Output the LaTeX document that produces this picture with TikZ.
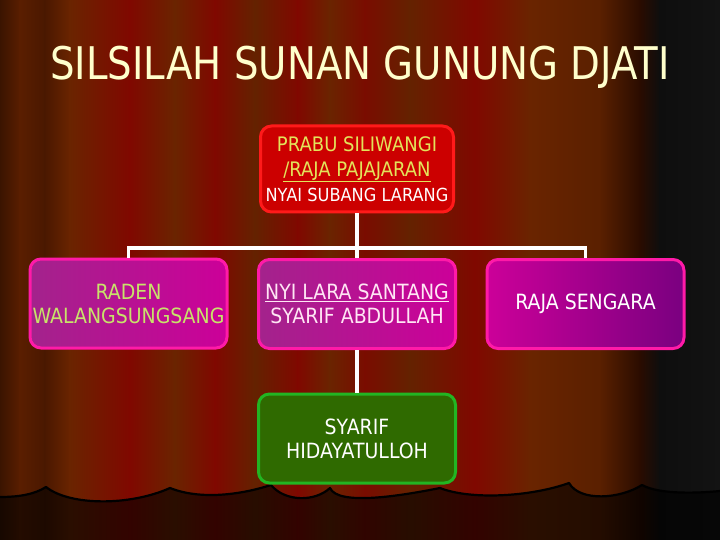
\documentclass[tikz,border=0pt]{standalone}
\usepackage{fontspec}
\newfontfamily\boxfont[FakeStretch=0.9]{DejaVu Sans}
\newfontfamily\titlefont[FakeStretch=0.86]{DejaVu Sans}

% curtain stripes
\definecolor{cur0}{HTML}{3A1400}
\definecolor{cur1}{HTML}{5A1E00}
\definecolor{cur2}{HTML}{4A1800}
\definecolor{cur3}{HTML}{6A2400}
\definecolor{cur4}{HTML}{800800}
\definecolor{cur5}{HTML}{642200}
\definecolor{cur6}{HTML}{7A0C00}
\definecolor{cur7}{HTML}{5A2000}
\definecolor{cur8}{HTML}{2A0C00}
\definecolor{cur9}{HTML}{0E0E0E}
\definecolor{cur10}{HTML}{131313}
% boxes
\definecolor{titlecol}{HTML}{FFFFCC}
\definecolor{redfill}{HTML}{CC0000}
\definecolor{redline}{HTML}{FF1A1A}
\definecolor{yellowtxt}{HTML}{E3E35A}
\definecolor{pinkline}{HTML}{FF1AA8}
\definecolor{magentaA}{HTML}{A3238C}
\definecolor{magentaB}{HTML}{CC0099}
\definecolor{purpleB}{HTML}{7A0080}
\definecolor{limetxt}{HTML}{C8E36A}
\definecolor{pinktxt}{HTML}{FFE6F4}
\definecolor{greenfill}{HTML}{2F6A00}
\definecolor{greenline}{HTML}{22B522}

\tikzset{
  person/.style={rounded corners=11pt, line width=3pt, align=center, inner sep=0pt,
    minimum width=197pt, minimum height=89pt, font=\boxfont\fontsize{21}{24}\selectfont},
  link/.style={draw=white, line width=3.5pt},
  hem/.style={line width=2.2pt, line join=round}
}
\newcommand{\hemline}{(0,497) .. controls (20,497) and (35,494) .. (46,487)
    .. controls (70,506) and (130,506) .. (170,488) .. controls (200,500) and (240,495) .. (271,485)
    .. controls (285,502) and (315,502) .. (330,488) .. controls (338,506) and (400,496) .. (440,488)
    .. controls (470,500) and (530,497) .. (569,483) .. controls (580,502) and (620,499) .. (642,485)
    .. controls (660,495) and (700,493) .. (720,491)}

\begin{document}
\begin{tikzpicture}[x=1pt, y=-1pt]
    \useasboundingbox (0,0) rectangle (720,540);
    % curtain
    \foreach \xa/\xb/\ca/\cb in {0/20/cur0/cur1, 20/45/cur1/cur2, 45/70/cur2/cur3, 70/130/cur3/cur4,
        130/175/cur4/cur3, 175/215/cur3/cur4, 215/255/cur4/cur5, 255/298/cur5/cur4, 298/330/cur4/cur3,
        330/365/cur3/cur6, 365/410/cur6/cur5, 410/475/cur5/cur4, 475/530/cur4/cur3, 530/600/cur3/cur7,
        600/640/cur7/cur8, 640/660/cur8/cur9, 660/720/cur9/cur10}
        \shade[left color=\ca, right color=\cb] (\xa-0.3,0) rectangle (\xb+0.3,540);
    % bottom hem of the curtain
    \fill[black, opacity=0.6] (0,540) -- \hemline -- (720,540) -- cycle;
    \draw[hem] \hemline;

    % title
    \node (title) at (360,67) [text=titlecol, font=\titlefont\fontsize{45}{50}\selectfont]
        {SILSILAH SUNAN GUNUNG DJATI};

    % family tree
    \node (prabu) at (357,169) [person, fill=redfill, draw=redline, minimum width=193pt,
        minimum height=86pt, font=\boxfont\fontsize{20}{25}\selectfont]
        {\textcolor{yellowtxt}{PRABU SILIWANGI}\\\textcolor{yellowtxt}{\underline{/RAJA PAJAJARAN}}\\
         \textcolor{white}{\fontsize{18}{25}\selectfont NYAI SUBANG LARANG}};
    \node (raden) at (128.5,303.5) [person, left color=magentaA, right color=magentaB, draw=pinkline,
        text=limetxt] {RADEN\\WALANGSUNGSANG};
    \node (santang) at (357,304) [person, left color=magentaA, right color=magentaB, draw=pinkline,
        text=pinktxt] {\underline{NYI LARA SANTANG}\\SYARIF ABDULLAH};
    \node (sengara) at (585.5,304) [person, left color=magentaB, right color=purpleB, draw=pinkline,
        text=white] {RAJA SENGARA};
    \node (hidayat) at (357,438.5) [person, fill=greenfill, draw=greenline, text=white]
        {SYARIF\\HIDAYATULLOH};

    % connectors
    \coordinate (joint) at (357,248);
    \draw[link] (prabu.south) -- (joint);
    \draw[link] (raden.north) |- (joint) -| (sengara.north);
    \draw[link] (joint) -- (santang.north);
    \draw[link] (santang.south) -- (hidayat.north);
\end{tikzpicture}
\end{document}
